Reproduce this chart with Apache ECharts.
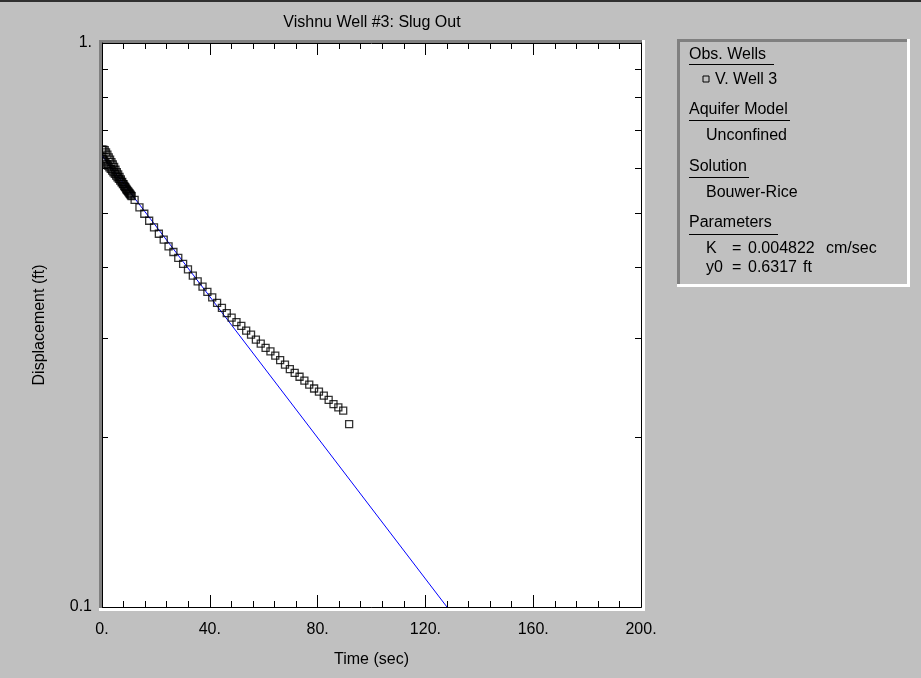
<!DOCTYPE html>
<html>
<head>
<meta charset="utf-8">
<script src="https://cdn.jsdelivr.net/npm/echarts@6/dist/echarts.min.js"></script>
<style>
html,body{margin:0;padding:0;background:#c0c0c0;}
#chart{width:921px;height:678px;}
</style>
</head>
<body>
<div id="chart"></div>
<script>
// ---- data ----
const obsTime = [
  0,0.25,0.5,0.75,1.0,1.25,1.5,1.75,2.0,2.25,2.5,2.75,3.0,3.25,3.5,3.75,4.0,4.25,4.5,4.75,5.0,5.25,5.5,5.75,6.0,6.25,6.5,6.75,7.0,7.25,7.5,7.75,8.0,8.25,8.5,8.75,9.0,9.25,9.5,9.75,10.0,10.25,10.5,10.75,11.0,
  12.1,13.9,15.7,17.5,19.3,21.1,22.9,24.7,26.5,28.3,30.1,31.9,33.7,35.5,37.3,39.1,40.9,42.7,44.5,46.3,48.1,49.9,51.7,53.5,55.3,57.1,58.9,60.7,62.5,64.3,66.1,67.9,69.7,71.5,73.3,75.1,76.9,78.7,80.5,82.3,84.1,85.9,87.7,89.5,
  91.7];
const obsDisp = [
  0.647,0.623,0.647,0.619,0.646,0.614,0.640,0.610,0.634,0.606,0.627,0.602,0.621,0.598,0.615,0.594,0.609,0.590,0.603,0.586,0.596,0.582,0.590,0.578,0.585,0.574,0.579,0.570,0.573,0.566,0.567,0.562,0.562,0.558,0.556,0.554,0.551,0.549,0.547,0.545,0.543,0.541,0.539,0.537,0.535,
  0.527,0.511,0.498,0.484,0.471,0.459,0.448,0.436,0.426,0.416,0.406,0.397,0.387,0.378,0.370,0.362,0.354,0.346,0.339,0.332,0.326,0.320,0.315,0.309,0.304,0.298,0.293,0.288,0.284,0.279,0.274,0.269,0.264,0.260,0.256,0.252,0.248,0.244,0.241,0.237,0.233,0.229,0.226,0.223,
  0.211];
const fitTime = [0, 128];
const fitDisp = [0.6317, 0.1];
const yTickValues = [0.1,0.2,0.3,0.4,0.5,0.6,0.7,0.8,0.9,1];
const yLabelValues = [0.1, 1];
const titleText = 'Vishnu Well #3: Slug Out';
const xName = 'Time (sec)';
const yName = 'Displacement (ft)';

const FONT = '"Liberation Sans", Arial, sans-serif';
const chart = echarts.init(document.getElementById('chart'), null, {renderer:'canvas'});

const obsData = obsTime.map((t,i)=>[t, obsDisp[i]]);
const fitData = fitTime.map((t,i)=>[t, fitDisp[i]]);

function xAx(pos, showLabel){
  return {
    type:'value', position:pos, min:0, max:200, interval:40,
    axisLine:{show:true, onZero:false, lineStyle:{color:'#000', width:1}},
    axisTick:{show:true, inside:true, length:12, lineStyle:{color:'#000', width:1}},
    minorTick:{show:true, splitNumber:5, length:6, lineStyle:{color:'#000', width:1}},
    splitLine:{show:false}, minorSplitLine:{show:false},
    axisLabel:{show:showLabel, formatter:v=>v+'.', color:'#000', fontSize:16, fontFamily:FONT, margin:15},
    name: showLabel ? xName : '', nameLocation:'middle', nameGap:45,
    nameTextStyle:{color:'#000', fontSize:16, fontFamily:FONT}
  };
}
function yAx(pos, showLabel){
  return {
    type:'log', logBase:10, position:pos, min:0.1, max:1,
    axisLine:{show:true, onZero:false, lineStyle:{color:'#000', width:1}},
    axisTick:{show:true, inside:true, length:6, customValues:yTickValues, lineStyle:{color:'#000', width:1}},
    splitLine:{show:false},
    axisLabel:{show:showLabel, customValues:yLabelValues, formatter:v=>(v>=0.99?'1.':'0.1'), color:'#000', fontSize:16, fontFamily:FONT, margin:10},
    name: showLabel ? yName : '', nameLocation:'middle', nameGap:54, nameRotate:90,
    nameTextStyle:{color:'#000', fontSize:16, fontFamily:FONT}
  };
}

const legendTexts = [
  {x:689, y:54.5, t:'Obs. Wells', ul:774},
  {x:715, y:79.5, t:'V. Well 3'},
  {x:689, y:110, t:'Aquifer Model', ul:790},
  {x:706, y:136, t:'Unconfined'},
  {x:689, y:167, t:'Solution', ul:749},
  {x:706, y:192.5, t:'Bouwer-Rice'},
  {x:689, y:223, t:'Parameters', ul:778},
  {x:706, y:249, t:'K'},
  {x:732, y:249, t:'='},
  {x:748, y:249, t:'0.004822'},
  {x:826, y:249, t:'cm/sec'},
  {x:706, y:268, t:'y0'},
  {x:732, y:268, t:'='},
  {x:748, y:268, t:'0.6317'},
  {x:803, y:268, t:'ft'}
];
const underlineY = {'Obs. Wells':64.5,'Aquifer Model':120.5,'Solution':177.5,'Parameters':234.5};

const graphics = [
  {type:'rect', z:-10, shape:{x:0,y:0,width:921,height:2}, style:{fill:'#303030'}},
  // plot bevel
  {type:'rect', z:-10, shape:{x:99,y:40,width:546,height:571}, style:{fill:'#ffffff'}},
  {type:'rect', z:-9, shape:{x:99,y:40,width:543,height:568}, style:{fill:'#808080'}},
  // cover symbol overflow at the left frame
  {type:'rect', z:20, shape:{x:99,y:40,width:3,height:568}, style:{fill:'#808080'}},
  {type:'rect', z:20, shape:{x:93,y:120,width:6,height:80}, style:{fill:'#c0c0c0'}},
  // legend bevel
  {type:'rect', z:-10, shape:{x:677,y:39,width:233,height:248}, style:{fill:'#ffffff'}},
  {type:'rect', z:-9, shape:{x:677,y:39,width:230,height:245}, style:{fill:'#808080'}},
  {type:'rect', z:-8, shape:{x:680,y:42,width:227,height:242}, style:{fill:'#c0c0c0'}},
  {type:'rect', z:1, shape:{x:703,y:76,width:6,height:6}, style:{fill:'none', stroke:'#000', lineWidth:1}},
  {type:'text', z:1, x:372, y:23, style:{text:titleText, fill:'#000', font:'16px '+FONT, textAlign:'center', textVerticalAlign:'middle'}}
];
legendTexts.forEach(o=>{
  graphics.push({type:'text', z:1, x:o.x, y:o.y, style:{text:o.t, fill:'#000', font:'16px '+FONT, textAlign:'left', textVerticalAlign:'middle'}});
  if(o.ul){
    graphics.push({type:'line', z:1, shape:{x1:o.x, y1:underlineY[o.t], x2:o.ul, y2:underlineY[o.t]}, style:{stroke:'#000', lineWidth:1}});
  }
});

chart.setOption({
  animation:false,
  backgroundColor:'#c0c0c0',
  grid:{left:102, right:280, top:43, bottom:71, show:true, backgroundColor:'#ffffff', borderWidth:0, containLabel:false},
  xAxis:[xAx('bottom', true), xAx('top', false)],
  yAxis:[yAx('left', true), yAx('right', false)],
  graphic:graphics,
  series:[
    {type:'line', data:fitData, showSymbol:false, symbol:'none', lineStyle:{color:'#0000ff', width:1}, z:3, silent:true},
    {type:'scatter', data:obsData, symbol:'rect', symbolSize:7, itemStyle:{color:'rgba(0,0,0,0)', borderColor:'#000', borderWidth:1.3}, z:4, silent:true}
  ]
});
</script>
</body>
</html>
